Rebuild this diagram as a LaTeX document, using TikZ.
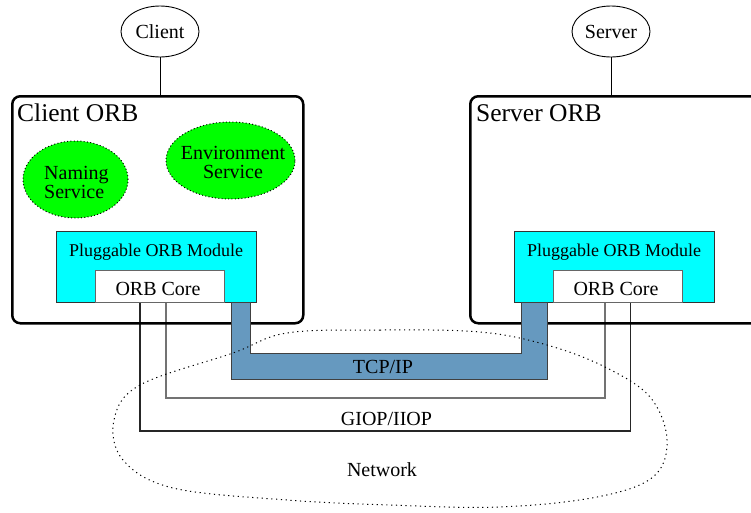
\documentclass[tikz,border=0pt]{standalone}
\usepackage{fontspec}
\setmainfont{Liberation Serif}
\usetikzlibrary{shapes.geometric}
\definecolor{tcpblue}{RGB}{102,153,191}
\definecolor{pgreen}{RGB}{0,255,0}
\definecolor{pcyan}{RGB}{0,255,255}
\tikzset{
  x=1pt, y=-1pt,
  orbbox/.style={draw=black, line width=2.5pt, rounded corners=8pt},
  actor/.style={draw=black, line width=0.9pt, ellipse, inner sep=0pt, font=\fontsize{20}{22}\selectfont},
  svc/.style={draw=black, fill=pgreen, ellipse, line width=1pt, dash pattern=on 1pt off 2.3pt, inner sep=0pt},
  modbox/.style={draw=black!80, fill=pcyan, line width=1pt, rectangle, inner sep=0pt, minimum width=200pt, minimum height=71pt},
  corebox/.style={draw=black!60, fill=white, line width=1pt, rectangle, inner sep=0pt, minimum width=129pt, minimum height=32pt},
  big/.style={font=\fontsize{25.5}{28}\selectfont, inner sep=0pt},
  mid/.style={font=\fontsize{20}{18.5}\selectfont, inner sep=0pt},
  sml/.style={font=\fontsize{18}{20}\selectfont, inner sep=0pt},
  innerline/.style={draw=black!55, line width=1.1pt},
  outerline/.style={draw=black!85, line width=1.1pt},
  netline/.style={draw=black, line width=1pt, dash pattern=on 1.2pt off 3.6pt},
}
\begin{document}
\begin{tikzpicture}
\useasboundingbox (0,0) rectangle (751,512);
\clip (0,0) rectangle (751,512);
\fill[white] (0,0) rectangle (751,512);

% GIOP/IIOP lines (drawn first, under the ORB boxes)
\coordinate (ci) at (166,302);
\coordinate (co) at (140,302);
\coordinate (si) at (605,302);
\coordinate (so) at (630.5,302);
\draw[innerline] (ci) -- (166,398) -- (605,398) -- (si);
\draw[outerline] (co) -- (140,431) -- (630.5,431) -- (so);

% actors
\node[actor, minimum width=78pt, minimum height=51pt] (client) at (160,31.5) {Client};
\node[actor, minimum width=78pt, minimum height=51pt] (server) at (611,31.5) {Server};

% ORB boxes
\node[orbbox, minimum width=291pt, minimum height=227pt, anchor=north west, inner sep=0pt] (corb) at (11,95) {};
\node[orbbox, minimum width=300pt, minimum height=227pt, anchor=north west, inner sep=0pt] (sorb) at (469,95) {};
\node[big, anchor=base west] (corbl) at (17,121.7) {Client ORB};
\node[big, anchor=base west] (sorbl) at (476,121.7) {Server ORB};

\draw[line width=0.9pt] (client.south) -- (client.south |- corb.north);
\draw[line width=0.9pt] (server.south) -- (server.south |- sorb.north);

% services
\node[svc, minimum width=105pt, minimum height=77pt] (naming) at (75.5,179.5) {};
\node[mid, align=left, anchor=base west] (namingl) at (44,198.3) {Naming\\Service};
\node[svc, minimum width=129pt, minimum height=77pt] (env) at (230.5,160.5) {};
\node[mid, align=center, anchor=base] (envl) at (233,178) {Environment\\Service};

% modules
\node[modbox] (cmod) at (156,266.5) {};
\node[modbox] (smod) at (614,266.5) {};
\node[sml, anchor=base] (cmodl) at (156,256.7) {Pluggable ORB Module};
\node[sml, anchor=base] (smodl) at (614,256.7) {Pluggable ORB Module};
\node[corebox] (ccore) at (159.5,286) {};
\node[corebox] (score) at (617.5,286) {};
\node[mid, anchor=base] (ccorel) at (158,295.7) {ORB Core};
\node[mid, anchor=base] (scorel) at (616,295.7) {ORB Core};

% TCP/IP channel
\draw[draw=black!75, line width=1pt, fill=tcpblue] (231,302) -- (231,379) -- (547,379) -- (547,302) -- (521,302) -- (521,353) -- (250,353) -- (250,302) -- cycle;

% network cloud
\draw[netline] plot[smooth cycle, tension=0.6] coordinates {
 (287,333) (380,330) (480,332) (547,345) (605,367) (650,397) (667,440)
 (653,477) (597,497) (500,507) (390,505) (287,500) (173,488) (123,460)
 (114,420) (140,385) (233,353)};

% labels
\node[mid, anchor=base] (tcpl) at (383,373) {TCP/IP};
\node[mid, anchor=base] (giopl) at (386.5,425) {GIOP/IIOP};
\node[mid, anchor=base] (netl) at (382,476.7) {Network};
\end{tikzpicture}
\end{document}
